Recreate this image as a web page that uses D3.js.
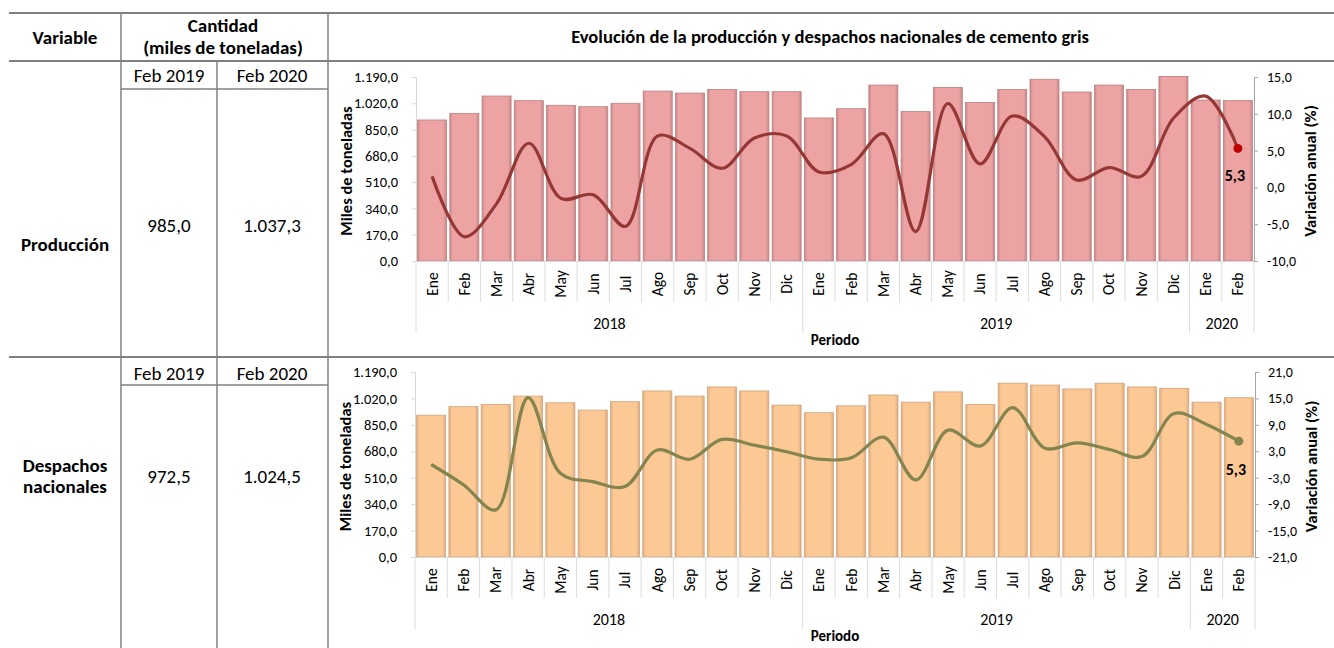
<!DOCTYPE html>
<html lang="es">
<head>
	<meta charset="UTF-8">
	<title>Cemento gris</title>
	<script type="text/javascript" src="https://cdn.jsdelivr.net/npm/d3@7/dist/d3.min.js"></script>
	<style>
		body { margin: 0; background: #fff; }
		svg text { font-family: Calibri, Carlito, Lato, "Open Sans", sans-serif; fill: #000; }
		.grid-line { stroke: #808080; stroke-width: 2; }
		.cell-line { stroke: #808080; stroke-width: 1.5; }
		.divider { stroke: #dcdcdc; stroke-width: 1; }
	</style>
</head>
<body>
<script type="text/javascript">
	// categories
	var months = ['Ene', 'Feb', 'Mar', 'Abr', 'May', 'Jun', 'Jul', 'Ago', 'Sep', 'Oct', 'Nov', 'Dic',
		'Ene', 'Feb', 'Mar', 'Abr', 'May', 'Jun', 'Jul', 'Ago', 'Sep', 'Oct', 'Nov', 'Dic',
		'Ene', 'Feb'];
	var yearLabels = ['2018', '2019', '2020'];
	var yearCounts = [12, 12, 2];

	// produccion (miles de toneladas) and variacion anual (%)
	var prodValues = [912, 955, 1067, 1037, 1007, 998, 1020, 1099, 1086, 1110, 1095, 1095,
		925, 985.0, 1138, 966, 1123, 1026, 1110, 1175, 1093, 1138, 1110, 1194,
		1041, 1037.3];
	var prodVariation = [1.5, -6.7, -2.2, 6.0, -1.5, -1.0, -5.3, 7.0, 5.3, 2.6, 6.7, 7.0,
		2.1, 3.1, 7.3, -6.0, 11.4, 3.2, 9.7, 6.9, 1.0, 2.7, 1.5, 9.4,
		12.4, 5.3];

	// despachos nacionales
	var despValues = [912, 967, 981, 1035, 992, 945, 999, 1068, 1035, 1094, 1068, 977,
		928, 972.5, 1042, 996, 1062, 981, 1118, 1106, 1081, 1118, 1094, 1085,
		996, 1024.5];
	var despVariation = [0.0, -4.6, -10.3, 15.2, -2.0, -3.9, -5.0, 3.3, 1.2, 5.7, 4.4, 2.9,
		1.2, 1.5, 6.2, -3.5, 7.8, 4.2, 12.9, 3.7, 4.9, 3.4, 1.8, 11.6,
		9.1, 5.3];

	var leftTicks = [0, 170, 340, 510, 680, 850, 1020, 1190];
	var prodRightTicks = [-10, -5, 0, 5, 10, 15];
	var despRightTicks = [-21, -15, -9, -3, 3, 9, 15, 21];

	// table texts
	var headVariable = 'Variable';
	var headCantidad = ['Cantidad', '(miles de toneladas)'];
	var chartTitle = 'Evolución de la producción y despachos nacionales de cemento gris';
	var periodLabels = ['Feb 2019', 'Feb 2020'];
	var prodTable = ['985,0', '1.037,3'];
	var despTable = ['972,5', '1.024,5'];

	var es = d3.formatLocale({decimal: ',', thousands: '.', grouping: [3], currency: ['', ''], minus: '-'});
	var fmt = es.format(',.1f');

	var svg = d3.select('body').append('svg')
		.attr('width', 1334)
		.attr('height', 648);

	// ---- table frame ----
	function hline(y, x1, x2, cls) {
		svg.append('line').attr('class', cls).attr('x1', x1).attr('x2', x2).attr('y1', y).attr('y2', y);
	}
	function vline(x, y1, y2) {
		svg.append('line').attr('class', 'cell-line').attr('x1', x).attr('x2', x).attr('y1', y1).attr('y2', y2);
	}
	hline(13, 9, 1334, 'grid-line');
	hline(61, 9, 1334, 'grid-line');
	hline(357, 9, 1334, 'grid-line');
	hline(89, 121, 328, 'cell-line');
	hline(385, 121, 328, 'cell-line');
	vline(121, 13, 648);
	vline(217, 61, 648);
	vline(328, 13, 648);

	function txt(x, y, s, size, bold) {
		return svg.append('text')
			.attr('x', x).attr('y', y)
			.attr('text-anchor', 'middle')
			.style('font-size', size + 'px')
			.style('font-weight', bold ? 'bold' : 'normal')
			.text(s);
	}

	txt(65, 44, headVariable, 19, true);
	txt(223, 32, headCantidad[0], 19, true);
	txt(223, 54, headCantidad[1], 19, true);
	txt(830, 43, chartTitle, 18.6, true);

	txt(169, 82, periodLabels[0], 19, false);
	txt(272, 82, periodLabels[1], 19, false);
	txt(169, 232, prodTable[0], 19, false);
	txt(272, 232, prodTable[1], 19, false);
	txt(65, 251, 'Producción', 19, true);

	txt(169, 380, periodLabels[0], 19, false);
	txt(272, 380, periodLabels[1], 19, false);
	txt(169, 483, despTable[0], 19, false);
	txt(272, 483, despTable[1], 19, false);
	txt(65, 472, 'Despachos', 19, true);
	txt(65, 493, 'nacionales', 19, true);

	// ---- charts ----
	function drawChart(cfg) {
		var g = svg.append('g');

		var x = d3.scaleBand()
			.domain(d3.range(months.length))
			.range([cfg.left, cfg.right])
			.paddingInner(0.1)
			.paddingOuter(0.05);

		var y = d3.scaleLinear().domain([0, 1190]).range([cfg.bottom, cfg.top]);
		var yR = d3.scaleLinear().domain(cfg.rightDomain).range([cfg.bottom, cfg.top]);

		// bar gradient
		var grad = svg.append('defs').append('linearGradient')
			.attr('id', cfg.id + 'grad')
			.attr('x1', '0%').attr('x2', '100%').attr('y1', '0%').attr('y2', '0%');
		grad.append('stop').attr('offset', '0%').attr('stop-color', cfg.barEdge);
		grad.append('stop').attr('offset', '10%').attr('stop-color', cfg.barFill);
		grad.append('stop').attr('offset', '88%').attr('stop-color', cfg.barFill);
		grad.append('stop').attr('offset', '100%').attr('stop-color', cfg.barEdge);

		g.selectAll('.bar')
			.data(cfg.values)
			.enter().append('rect')
			.attr('class', 'bar')
			.attr('x', function (d, i) { return x(i); })
			.attr('width', x.bandwidth())
			.attr('y', function (d) { return y(d); })
			.attr('height', function (d) { return cfg.bottom - y(d); })
			.style('fill', 'url(#' + cfg.id + 'grad)')
			.style('stroke', cfg.barStroke)
			.style('stroke-width', 0.8);

		// category axis
		var ax = g.append('g')
			.attr('transform', 'translate(0,' + cfg.bottom + ')')
			.call(d3.axisBottom(x).tickSize(0).tickFormat(function (i) { return months[i]; }));
		ax.select('.domain').attr('stroke', '#d9d9d9');
		ax.selectAll('text')
			.attr('transform', 'rotate(-90)')
			.attr('x', -23)
			.attr('y', 0)
			.attr('dy', '0.35em')
			.style('text-anchor', 'middle')
			.style('font-family', 'Calibri, Carlito, Lato, sans-serif')
			.style('font-size', '15.5px')
			.style('fill', '#000');

		// dividers between months and years
		var step = x.step();
		var edge = function (i) { return x(0) - step * x.paddingInner() / 2 + i * step; };
		var yearStarts = [0];
		yearCounts.forEach(function (c, k) { yearStarts.push(yearStarts[k] + c); });
		g.selectAll('.divider')
			.data(d3.range(months.length + 1))
			.enter().append('line')
			.attr('class', 'divider')
			.attr('x1', function (i) { return edge(i); })
			.attr('x2', function (i) { return edge(i); })
			.attr('y1', cfg.bottom)
			.attr('y2', function (i) { return cfg.bottom + (yearStarts.indexOf(i) >= 0 ? 72 : 41); });

		g.selectAll('.year')
			.data(yearLabels)
			.enter().append('text')
			.attr('class', 'year')
			.attr('x', function (d, k) { return (edge(yearStarts[k]) + edge(yearStarts[k + 1])) / 2; })
			.attr('y', cfg.bottom + 68)
			.attr('text-anchor', 'middle')
			.style('font-size', '16px')
			.text(function (d) { return d; });

		g.append('text')
			.attr('x', (cfg.left + cfg.right) / 2)
			.attr('y', cfg.bottom + 84)
			.attr('text-anchor', 'middle')
			.style('font-size', '15px')
			.style('font-weight', 'bold')
			.text('Periodo');

		// left axis
		var la = g.append('g')
			.attr('transform', 'translate(' + cfg.left + ',0)')
			.call(d3.axisLeft(y).tickValues(leftTicks).tickSize(4).tickPadding(14).tickFormat(fmt));
		la.select('.domain').attr('stroke', '#d9d9d9');
		la.selectAll('.tick line').attr('stroke', '#d9d9d9');
		la.selectAll('text')
			.style('font-family', 'Calibri, Carlito, Lato, sans-serif')
			.style('font-size', '14.5px').style('fill', '#000');

		// right axis
		var ra = g.append('g')
			.attr('transform', 'translate(' + cfg.right + ',0)')
			.call(d3.axisRight(yR).tickValues(cfg.rightTicks).tickSize(4).tickPadding(9).tickFormat(fmt));
		ra.select('.domain').attr('stroke', '#a6a6a6');
		ra.selectAll('.tick line').attr('stroke', '#a6a6a6');
		ra.selectAll('text')
			.style('font-family', 'Calibri, Carlito, Lato, sans-serif')
			.style('font-size', '14px').style('fill', '#000');

		// axis titles
		var mid = (cfg.top + cfg.bottom) / 2;
		g.append('text')
			.attr('transform', 'translate(' + (cfg.left - 64) + ',' + (mid + 2) + ') rotate(-90)')
			.attr('text-anchor', 'middle')
			.style('font-size', '16.5px')
			.style('font-weight', 'bold')
			.text('Miles de toneladas');
		g.append('text')
			.attr('transform', 'translate(' + (cfg.right + 62) + ',' + (mid + 2) + ') rotate(-90)')
			.attr('text-anchor', 'middle')
			.style('font-size', '16.5px')
			.style('font-weight', 'bold')
			.text('Variación anual (%)');

		// variation line
		var line = d3.line()
			.x(function (d, i) { return x(i) + x.bandwidth() / 2; })
			.y(function (d) { return yR(d); })
			.curve(d3.curveCatmullRom.alpha(0.5));

		g.append('path')
			.datum(cfg.variation)
			.attr('d', line)
			.style('fill', 'none')
			.style('stroke', cfg.lineColor)
			.style('stroke-width', 3.2);

		var last = cfg.variation.length - 1;
		g.append('circle')
			.attr('cx', x(last) + x.bandwidth() / 2)
			.attr('cy', yR(cfg.variation[last]))
			.attr('r', 4.5)
			.style('fill', cfg.dotColor);

		g.append('text')
			.attr('x', x(last) + x.bandwidth() / 2 - 3)
			.attr('y', yR(cfg.variation[last]) + cfg.labelDy)
			.attr('text-anchor', 'middle')
			.style('font-size', '16px')
			.style('font-weight', 'bold')
			.text(fmt(cfg.variation[last]));
	}

	drawChart({
		id: 'prod',
		left: 416, right: 1254, top: 77, bottom: 261,
		values: prodValues,
		variation: prodVariation,
		rightDomain: [-10, 15],
		rightTicks: prodRightTicks,
		barFill: '#eda3a3', barEdge: '#c98888', barStroke: '#b98080',
		lineColor: '#953735', dotColor: '#c00000',
		labelDy: 33
	});

	drawChart({
		id: 'desp',
		left: 415, right: 1255, top: 372, bottom: 557,
		values: despValues,
		variation: despVariation,
		rightDomain: [-21, 21],
		rightTicks: despRightTicks,
		barFill: '#fcc894', barEdge: '#dcae84', barStroke: '#d0a27a',
		lineColor: '#84844f', dotColor: '#84844f',
		labelDy: 34
	});
</script>
</body>
</html>
